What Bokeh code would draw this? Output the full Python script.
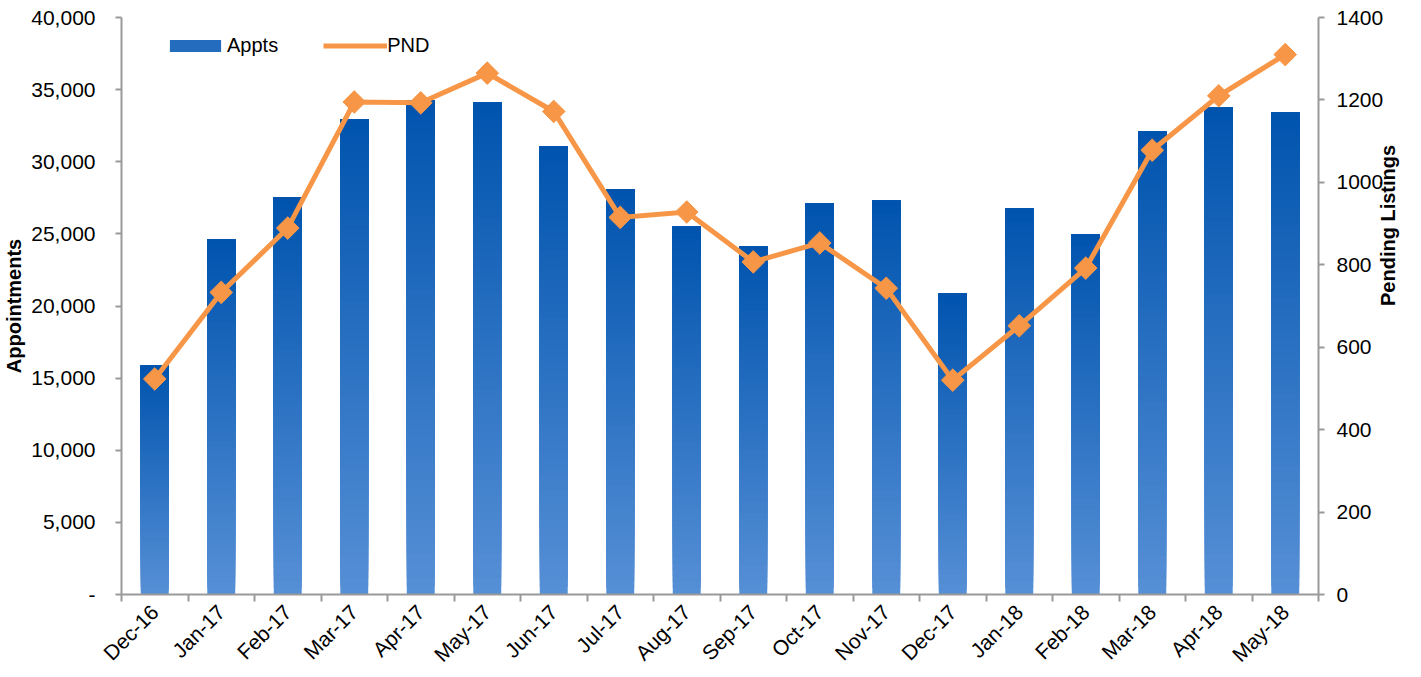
import math
from bokeh.plotting import figure
from bokeh.models import (Range1d, LinearAxis, FixedTicker, Legend, LegendItem,
                          ColumnDataSource, NumeralTickFormatter)
from bokeh.embed import file_html
from bokeh.resources import INLINE

months = ["Dec-16", "Jan-17", "Feb-17", "Mar-17", "Apr-17", "May-17", "Jun-17",
          "Jul-17", "Aug-17", "Sep-17", "Oct-17", "Nov-17", "Dec-17", "Jan-18",
          "Feb-18", "Mar-18", "Apr-18", "May-18"]
appts = [15850, 24600, 27550, 32950, 34250, 34100, 31100, 28100, 25500, 24100,
         27100, 27300, 20850, 26750, 25000, 32100, 33750, 33400]
pnd = [523, 733, 889, 1195, 1193, 1265, 1172, 915, 928, 807, 853, 743, 520,
       652, 792, 1078, 1210, 1310]

FONT = "Liberation Sans"
GRAY = "#999999"
TOP_C = (0, 84, 174)
BOT_C = (86, 143, 214)
ORANGE = "#F79646"

xs = list(range(len(months)))

p = figure(width=1413, height=677, output_backend="svg", toolbar_location=None,
           x_range=Range1d(-0.5, len(months) - 0.5), y_range=Range1d(0, 40000),
           min_border_left=121, min_border_right=93, min_border_top=17,
           min_border_bottom=60, x_axis_type=None, y_axis_type=None)
p.outline_line_color = None
p.background_fill_color = "white"
p.border_fill_color = "white"
p.extra_y_ranges = {"pnd": Range1d(0, 1400)}

# gradient bars built from stacked segments (dark top -> light bottom)
N = 60
half = 0.21
L, R, B, T, C = [], [], [], [], []
for k in range(N):
    f = (k + 0.5) / N
    col = "#%02x%02x%02x" % tuple(int(round(BOT_C[j] + (TOP_C[j] - BOT_C[j]) * f)) for j in range(3))
    for i, v in zip(xs, appts):
        L.append(i - half); R.append(i + half)
        B.append(v * k / N); T.append(v)
        C.append(col)
bar_src = ColumnDataSource(dict(left=L, right=R, bottom=B, top=T, color=C))
bars = p.quad(left="left", right="right", bottom="bottom", top="top",
              fill_color="color", line_color=None, source=bar_src)

# PND line
line = p.line(xs, pnd, y_range_name="pnd", line_color=ORANGE, line_width=5,
              line_join="miter")
p.scatter(xs, pnd, y_range_name="pnd", marker="square", size=16,
          angle=math.pi / 4, fill_color=ORANGE, line_color=ORANGE)

# x axis: ticks between categories, labels at centres
xaxis = LinearAxis(ticker=FixedTicker(ticks=xs, minor_ticks=[i - 0.5 for i in range(len(months) + 1)]))
xaxis.major_label_overrides = {i: m for i, m in enumerate(months)}
xaxis.major_label_orientation = math.pi / 4
xaxis.major_tick_out = 0
xaxis.major_tick_in = 0
xaxis.minor_tick_out = 7
xaxis.minor_tick_in = 0
xaxis.minor_tick_line_color = GRAY
xaxis.minor_tick_line_width = 2
xaxis.axis_line_color = GRAY
xaxis.axis_line_width = 2
xaxis.major_label_text_font = FONT
xaxis.major_label_text_font_size = "21px"
xaxis.major_label_text_color = "black"
xaxis.major_label_standoff = 7
p.add_layout(xaxis, "below")

# left axis
yticks = list(range(0, 40001, 5000))
yaxis = LinearAxis(ticker=FixedTicker(ticks=yticks), formatter=NumeralTickFormatter(format="0,0"))
yaxis.major_label_overrides = {0: "-"}
yaxis.axis_label = "Appointments"
yaxis.axis_label_text_font = FONT
yaxis.axis_label_text_font_style = "bold"
yaxis.axis_label_text_font_size = "20px"
yaxis.axis_label_text_color = "black"
yaxis.axis_label_standoff = 3
yaxis.major_label_text_font = FONT
yaxis.major_label_text_font_size = "21px"
yaxis.major_label_text_color = "black"
yaxis.major_label_standoff = 20
yaxis.major_tick_out = 6
yaxis.major_tick_in = 0
yaxis.major_tick_line_color = GRAY
yaxis.major_tick_line_width = 2
yaxis.minor_tick_line_color = None
yaxis.axis_line_color = GRAY
yaxis.axis_line_width = 2
p.add_layout(yaxis, "left")

# right axis
raxis = LinearAxis(y_range_name="pnd", ticker=FixedTicker(ticks=list(range(0, 1401, 200))))
raxis.axis_label = "Pending Listings"
try:
    raxis.axis_label_orientation = math.pi / 2
except Exception:
    pass
raxis.axis_label_text_font = FONT
raxis.axis_label_text_font_style = "bold"
raxis.axis_label_text_font_size = "20px"
raxis.axis_label_text_color = "black"
raxis.axis_label_standoff = 2
raxis.major_label_text_font = FONT
raxis.major_label_text_font_size = "21px"
raxis.major_label_text_color = "black"
raxis.major_label_standoff = 12
raxis.major_tick_out = 6
raxis.major_tick_in = 0
raxis.major_tick_line_color = GRAY
raxis.major_tick_line_width = 2
raxis.minor_tick_line_color = None
raxis.axis_line_color = GRAY
raxis.axis_line_width = 2
p.add_layout(raxis, "right")

# grid
p.ygrid.ticker = FixedTicker(ticks=yticks)
p.ygrid.grid_line_color = GRAY
p.ygrid.grid_line_width = 2
p.xgrid.grid_line_color = None

legend = Legend(items=[LegendItem(label="Appts", renderers=[bars], index=len(appts) * 35),
                       LegendItem(label="PND", renderers=[line])],
                orientation="horizontal", location=(42, 537),
                label_text_font=FONT, label_text_font_size="20px",
                label_text_color="black",
                glyph_width=64, glyph_height=15, label_standoff=0, spacing=45,
                padding=0, margin=0, border_line_color=None,
                background_fill_alpha=0)
p.add_layout(legend, "center")

open("out.html", "w").write(file_html(p, INLINE))
